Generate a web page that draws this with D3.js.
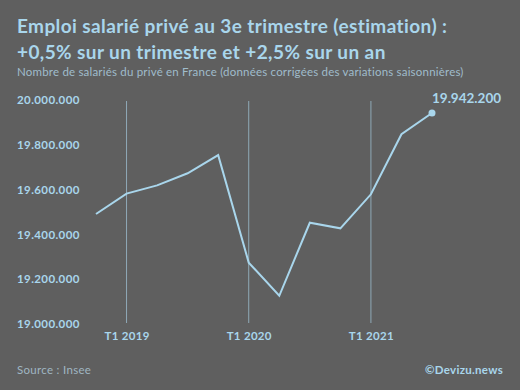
<!DOCTYPE html>
<html lang="fr">
<head>
    <meta charset="UTF-8">
    <script src="https://d3js.org/d3.v7.min.js"></script>
    <title>Emploi salarié privé</title>
    <style>
        body { margin: 0; background-color: #5f5f5f; }
        svg { display: block; }
    </style>
</head>
<body>
    <svg id="chart" width="520" height="390"></svg>
    <script>
        // Données (trimestres T4 2018 -> T3 2021)
        const quarters = ["T4 2018", "T1 2019", "T2 2019", "T3 2019", "T4 2019",
                          "T1 2020", "T2 2020", "T3 2020", "T4 2020",
                          "T1 2021", "T2 2021", "T3 2021"];
        const salaries = [19491000, 19582000, 19619000, 19673000, 19754000,
                          19274000, 19126000, 19452000, 19427000,
                          19579000, 19847000, 19942200];
        const yTicks = [19000000, 19200000, 19400000, 19600000, 19800000, 20000000];
        const xTicks = ["T1 2019", "T1 2020", "T1 2021"];

        const blue = "#a9d6ec";
        const gridColor = "#8fa9b7";
        const font = "Lato, 'Open Sans', sans-serif";

        const svg = d3.select("#chart");

        const x = d3.scalePoint()
            .domain(quarters)
            .range([96, 432]);

        const y = d3.scaleLinear()
            .domain([19000000, 20000000])
            .range([324, 100]);

        const fmt = d => d3.format(",")(d).replace(/,/g, ".");

        // titre
        const title = svg.append("text")
            .attr("x", 17)
            .attr("font-family", font)
            .attr("font-weight", "bold")
            .attr("font-size", 19)
            .attr("letter-spacing", 0.4)
            .attr("fill", blue);
        title.append("tspan").attr("x", 17).attr("y", 33)
            .text("Emploi salarié privé au 3e trimestre (estimation) :");
        title.append("tspan").attr("x", 17).attr("y", 59)
            .text("+0,5% sur un trimestre et +2,5% sur un an");

        svg.append("text")
            .attr("x", 17).attr("y", 76)
            .attr("font-family", font)
            .attr("font-size", 11.5)
            .attr("letter-spacing", 0.2)
            .attr("fill", "#9fbccb")
            .text("Nombre de salariés du privé en France (données corrigées des variations saisonnières)");

        // lignes verticales
        svg.selectAll(".grid")
            .data(xTicks)
            .join("line")
            .attr("class", "grid")
            .attr("x1", d => x(d)).attr("x2", d => x(d))
            .attr("y1", 101).attr("y2", 323)
            .attr("stroke", gridColor)
            .attr("stroke-width", 1);

        // axe y (étiquettes seulement)
        const yAxis = svg.append("g")
            .attr("transform", "translate(17,0)")
            .call(d3.axisRight(y).tickValues(yTicks).tickFormat(fmt).tickSize(0).tickPadding(0));
        yAxis.select(".domain").remove();
        yAxis.selectAll("text")
            .attr("font-family", font)
            .attr("font-weight", "bold")
            .attr("font-size", 11.5)
            .attr("letter-spacing", 0.4)
            .attr("fill", blue);

        // axe x
        const xAxis = svg.append("g")
            .attr("transform", "translate(0,332)")
            .call(d3.axisBottom(x).tickValues(xTicks).tickSize(0).tickPadding(0));
        xAxis.select(".domain").remove();
        xAxis.selectAll("text")
            .attr("dy", "0.71em")
            .attr("font-family", font)
            .attr("font-weight", "bold")
            .attr("font-size", 11.5)
            .attr("letter-spacing", 0.3)
            .attr("fill", blue);

        // courbe
        const line = d3.line()
            .x((d, i) => x(quarters[i]))
            .y(d => y(d));

        svg.append("path")
            .datum(salaries)
            .attr("d", line)
            .attr("fill", "none")
            .attr("stroke", blue)
            .attr("stroke-width", 2)
            .attr("stroke-linejoin", "miter");

        const last = salaries.length - 1;
        svg.append("circle")
            .attr("cx", x(quarters[last]))
            .attr("cy", y(salaries[last]))
            .attr("r", 3.5)
            .attr("fill", blue);

        svg.append("text")
            .attr("x", x(quarters[last]))
            .attr("y", 103)
            .attr("font-family", font)
            .attr("font-weight", "bold")
            .attr("font-size", 13.5)
            .attr("fill", blue)
            .text(fmt(salaries[last]));

        // pied
        svg.append("text")
            .attr("x", 17).attr("y", 374)
            .attr("font-family", font)
            .attr("font-size", 11.5)
            .attr("letter-spacing", 0.3)
            .attr("fill", "#9fb6c2")
            .text("Source : Insee");

        svg.append("text")
            .attr("x", 503).attr("y", 374)
            .attr("text-anchor", "end")
            .attr("font-family", font)
            .attr("font-weight", "bold")
            .attr("font-size", 11.5)
            .attr("letter-spacing", 0.3)
            .attr("fill", blue)
            .text("©Devizu.news");
    </script>
</body>
</html>
